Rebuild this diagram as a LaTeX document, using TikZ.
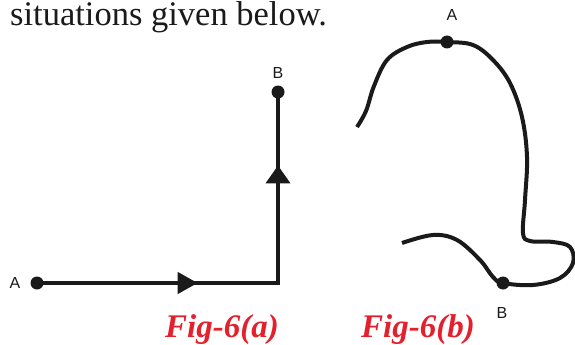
\documentclass[tikz,border=0pt]{standalone}
\usepackage{fontspec}
\setmainfont{Liberation Serif}
\newfontfamily\ptfont{Liberation Sans}
\usetikzlibrary{arrows.meta,decorations.markings}
\definecolor{fgink}{HTML}{1A1A1A}
\definecolor{fgred}{HTML}{E3202B}
\tikzset{
  fgpath/.style={
    draw=fgink,
    line width=4pt,
    line cap=butt,
    line join=miter
  },
  fgdot/.style={
    circle,
    fill=fgink,
    inner sep=0pt,
    minimum size=13pt
  },
  fglabel/.style={
    font=\ptfont\fontsize{16}{18}\selectfont,
    text=fgink,
    inner sep=0pt
  },
  fgcaption/.style={
    font=\fontsize{33}{38}\selectfont\bfseries\itshape,
    text=fgred,
    inner sep=0pt,
    anchor=base
  },
  fgheading/.style={
    font=\fontsize{34.5}{40}\selectfont,
    text=fgink,
    inner sep=0pt,
    anchor=base west
  }
}

\begin{document}
\begin{tikzpicture}[x=1pt,y=-1pt]
  \useasboundingbox (0,0) rectangle (575,345);

  \node[fgheading] (heading) at (10,26) {situations given below.};

  % Fig-6(a)
  \node[fgdot] (pa) at (37,283) {};
  \node[fgdot] (pb) at (278,92) {};
  \node[fglabel] (la) at (15,283) {A};
  \node[fglabel] (lb) at (278,73) {B};
  \draw[fgpath, postaction={decorate}, decoration={markings,
      mark=at position 0.372 with {\arrow{Triangle[length=20pt,width=21pt]}},
      mark=at position 0.83 with {\arrow{Triangle[length=18pt,width=24pt]}}}]
    (pa.center) -| (pb.center);
  \node[fgcaption] (capa) at (222,337) {Fig-6(a)};

  % Fig-6(b)
  \node[fgdot] (qa) at (447,42) {};
  \node[fgdot] (qb) at (503,283) {};
  \node[fglabel] (lqa) at (452,15) {A};
  \node[fglabel] (lqb) at (502,313) {B};
  \draw[fgpath] plot[smooth, tension=0.6] coordinates {
    (357,127) (366,111) (374,86) (387,60) (407,47) (427,42) (qa.center)
    (473,45) (493,60) (510,83) (522,117) (527,157) (525,200) (523,233)
    (530,241) (553,242) (570,247) (573,263) (560,278) (533,285) (qb.center)
    (493,277) (480,260) (457,240) (433,235) (402,243)};
  \node[fgcaption] (capb) at (418,337) {Fig-6(b)};
\end{tikzpicture}
\end{document}
